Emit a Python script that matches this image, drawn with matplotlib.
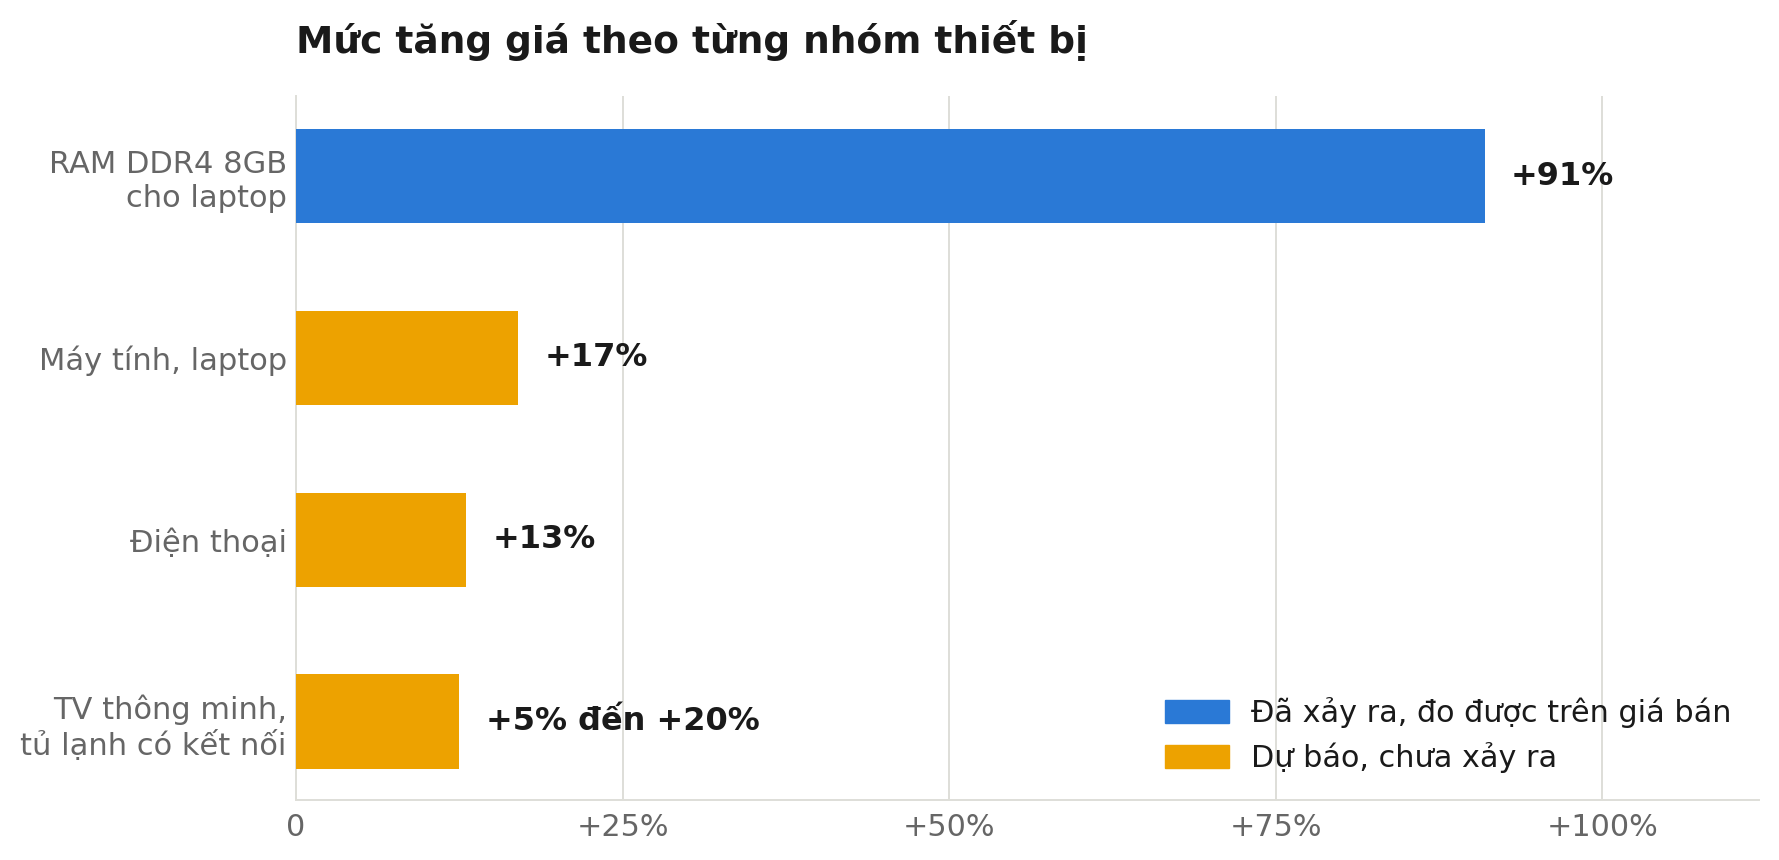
import numpy as np
import matplotlib
matplotlib.use("Agg")
import matplotlib.pyplot as plt
from matplotlib.patches import Patch

# Dữ liệu
categories = ["RAM DDR4 8GB\ncho laptop", "Máy tính, laptop", "Điện thoại",
              "TV thông minh,\ntủ lạnh có kết nối"]
values = [91, 17, 13, 12.5]
value_labels = ["+91%", "+17%", "+13%", "+5% đến +20%"]
status = ["measured", "forecast", "forecast", "forecast"]
x_ticks = [0, 25, 50, 75, 100]
x_tick_labels = ["0", "+25%", "+50%", "+75%", "+100%"]
legend_labels = ["Đã xảy ra, đo được trên giá bán", "Dự báo, chưa xảy ra"]

BLUE = "#2A79D6"
ORANGE = "#EDA200"
GRID = "#DEDED8"
TEXT = "#1A1A1A"
TICK = "#666666"

colors = [BLUE if s == "measured" else ORANGE for s in status]

plt.rcParams['font.family'] = ['DejaVu Sans']

fig = plt.figure(figsize=(17.79, 8.60), dpi=100)
ax = fig.add_axes([296 / 1779, 1 - 800 / 860, (1759 - 296) / 1779, (800 - 96) / 860])

y = np.arange(len(categories))
ax.barh(y, values, height=0.52, color=colors, zorder=3)

for yi, v, lab in zip(y, values, value_labels):
    ax.annotate(lab, xy=(v, yi), xytext=(19, 0), textcoords="offset points",
                va="center", ha="left", fontsize=23, fontweight="bold", color=TEXT)

ax.set_yticks(y)
ax.set_yticklabels(categories, fontsize=22, color=TICK)
ax.set_xticks(x_ticks)
ax.set_xticklabels(x_tick_labels, fontsize=21.8, color=TICK)
ax.set_xlim(0, 112)
ax.set_ylim(len(categories) - 1 + 0.43, -0.44)

ax.tick_params(axis="both", length=0)
ax.tick_params(axis="x", pad=9)
ax.tick_params(axis="y", pad=6.7)

ax.grid(axis="x", color=GRID, linewidth=1.4, zorder=0)
ax.set_axisbelow(True)
for side in ["top", "right"]:
    ax.spines[side].set_visible(False)
for side in ["left", "bottom"]:
    ax.spines[side].set_color(GRID)
    ax.spines[side].set_linewidth(1.4)

handles = [Patch(color=BLUE), Patch(color=ORANGE)]
ax.legend(handles, legend_labels, loc="lower right", frameon=False, fontsize=21.8,
          handlelength=2.1, handleheight=0.8, handletextpad=0.75, labelspacing=0.45,
          labelcolor=TEXT, borderaxespad=0.5)

fig.text(296 / 1779, 1 - 53 / 860, "Mức tăng giá theo từng nhóm thiết bị",
         fontsize=27, fontweight="bold", color=TEXT, ha="left", va="baseline")

fig.savefig("out.png", dpi=100, facecolor="white")
